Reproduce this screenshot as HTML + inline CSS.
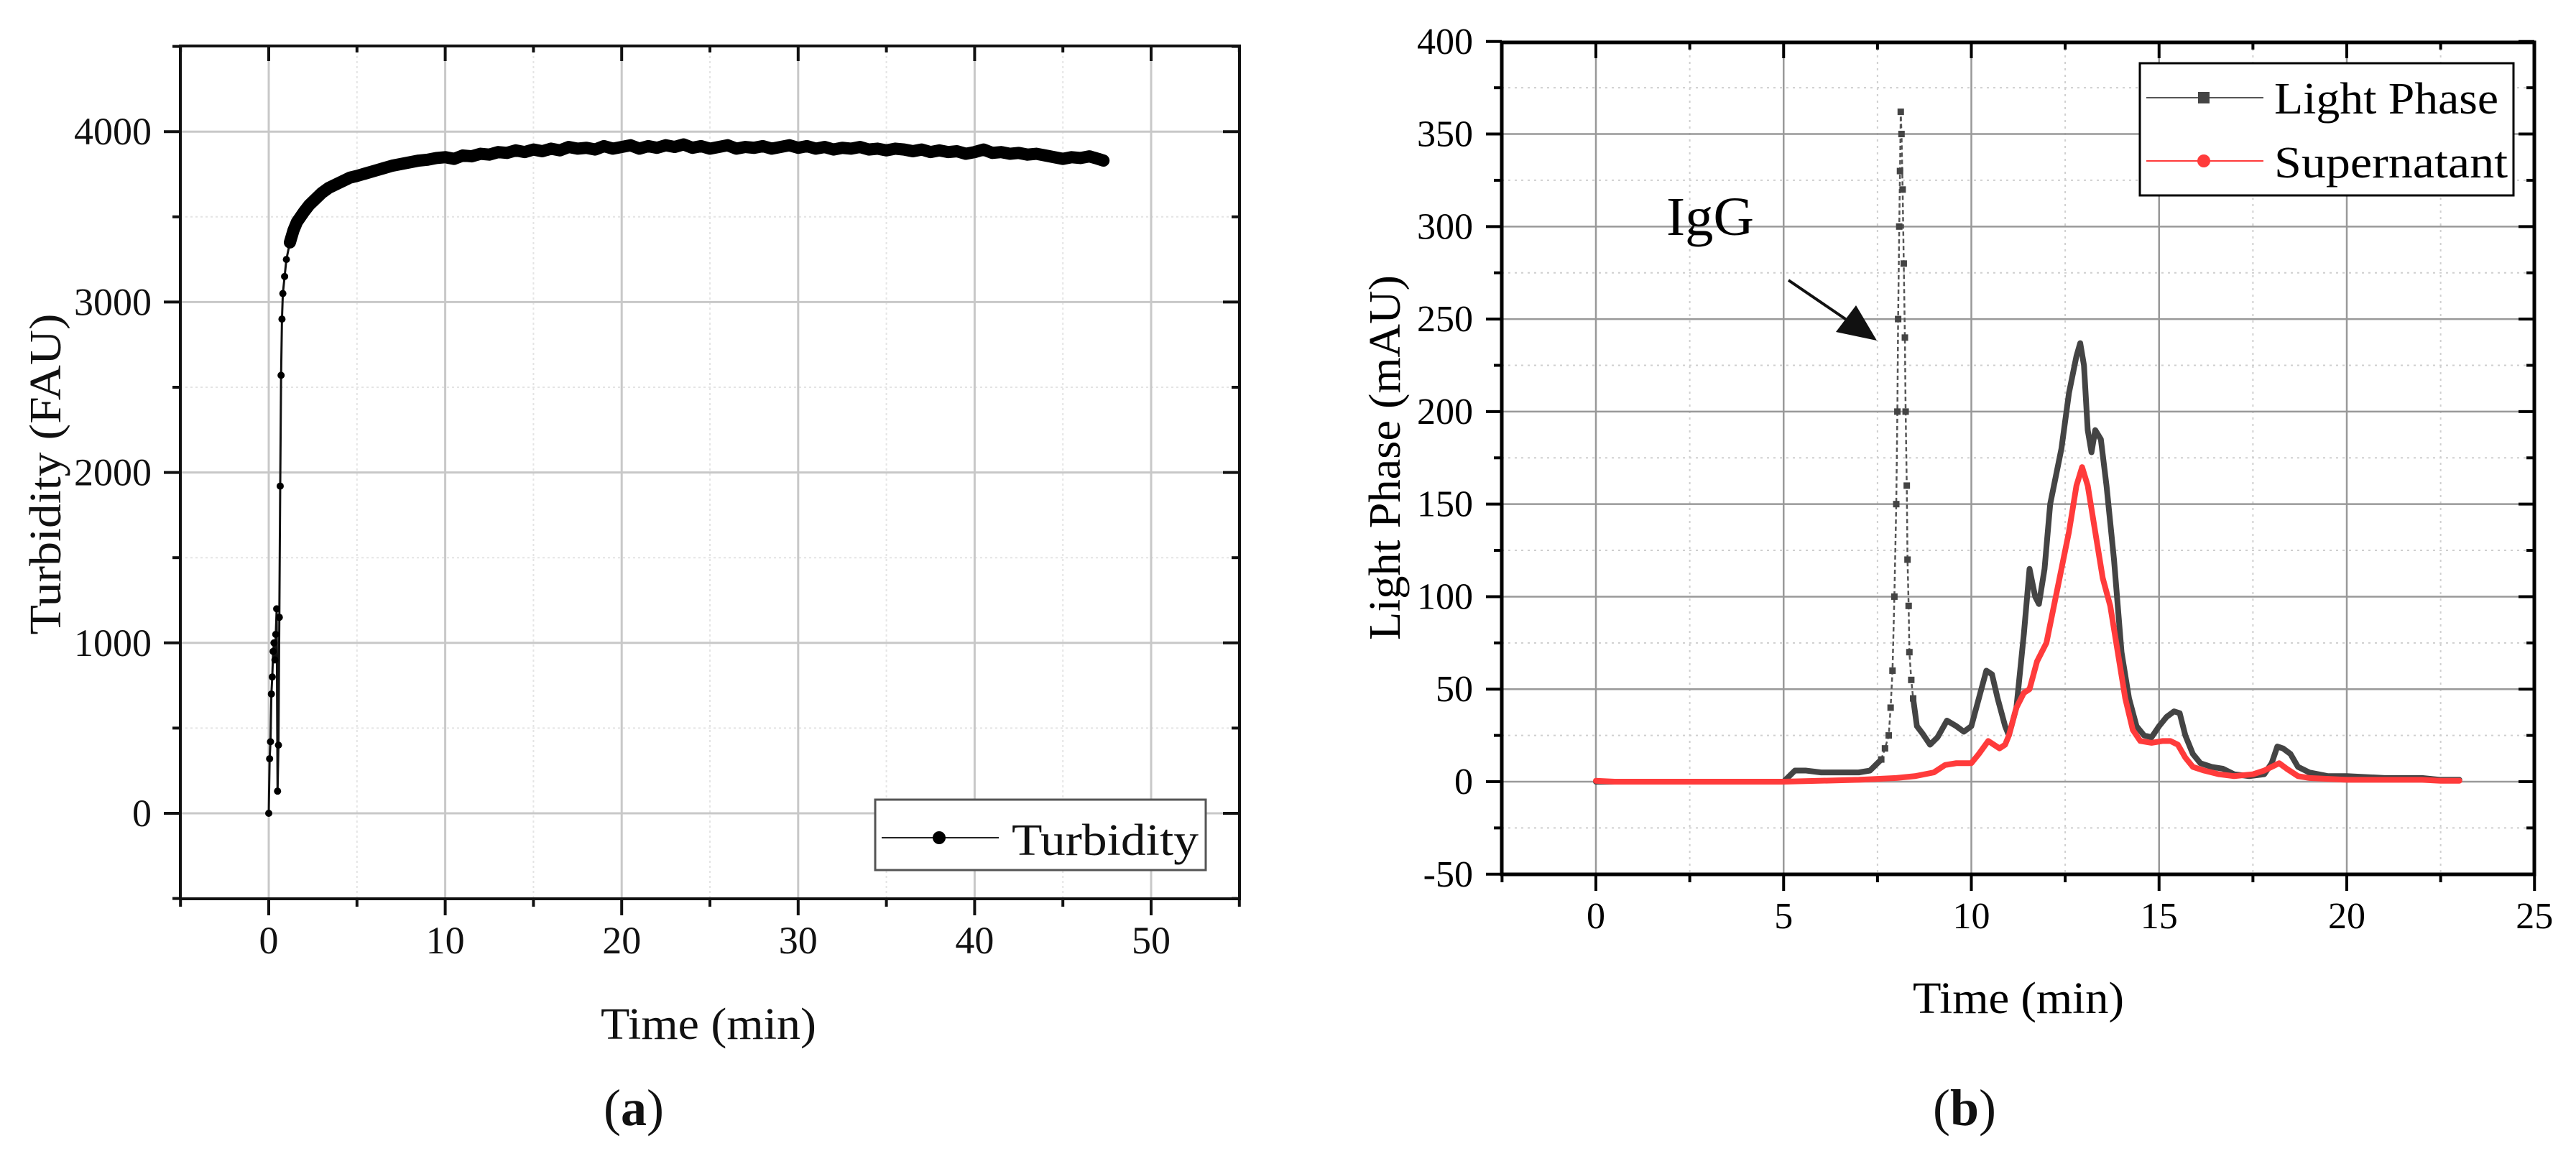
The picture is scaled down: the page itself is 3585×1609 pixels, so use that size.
<!DOCTYPE html>
<html><head><meta charset="utf-8"><style>
html,body{margin:0;padding:0;background:#fff;}
svg{display:block;font-family:"Liberation Serif",serif;}
</style></head><body>
<svg id="fig" width="3585" height="1609" viewBox="0 0 3585 1609" xmlns="http://www.w3.org/2000/svg">
<g id="chartA"></g>
<g id="chartB"></g>
</svg>
<script>
// ---------- Chart (a) data ----------
const turbTime = [0,0.05,0.1,0.15,0.2,0.25,0.3,0.35,0.4,0.45,0.5,0.55,0.6,0.65,0.7,0.75,0.8,0.9,1.0,1.2,1.4,1.6,1.8,2.0,2.3,2.6,3,3.4,3.8,4.2,4.6,5,5.5,6,6.5,7,7.5,8,8.5,9,9.5,10,10.5,11,11.5,12,12.5,13,13.5,14,14.5,15,15.5,16,16.5,17,17.5,18,18.5,19,19.5,20,20.5,21,21.5,22,22.5,23,23.5,24,24.5,25,25.5,26,26.5,27,27.5,28,28.5,29,29.5,30,30.5,31,31.5,32,32.5,33,33.5,34,34.5,35,35.5,36,36.5,37,37.5,38,38.5,39,39.5,40,40.5,41,41.5,42,42.5,43,43.5,44,44.5,45,45.5,46,46.5,47,47.3];
const turbValue = [0,320,420,700,800,950,1000,900,1050,1200,130,400,1150,1920,2570,2900,3050,3150,3250,3350,3420,3470,3500,3530,3570,3600,3640,3670,3690,3710,3730,3740,3755,3770,3785,3800,3810,3820,3830,3835,3845,3850,3840,3860,3855,3870,3865,3880,3875,3890,3880,3895,3885,3900,3890,3910,3900,3905,3895,3915,3900,3910,3920,3900,3915,3905,3920,3910,3925,3905,3915,3900,3910,3920,3900,3910,3905,3915,3900,3910,3920,3905,3915,3900,3910,3895,3905,3900,3910,3895,3900,3890,3900,3895,3885,3895,3880,3890,3880,3885,3870,3880,3895,3875,3880,3870,3875,3865,3870,3860,3850,3840,3850,3845,3855,3840,3830];
const aXTicks = [0,10,20,30,40,50];
const aYTicks = [0,1000,2000,3000,4000];

// ---------- Chart (b) data ----------
const lpTime = [0,1,2,3,4,5,5.3,5.6,6,6.5,7,7.3,7.6,7.7,7.8,7.85,7.9,7.95,8.0,8.03,8.05,8.08,8.1,8.12,8.14,8.17,8.2,8.23,8.25,8.28,8.3,8.33,8.35,8.4,8.45,8.55,8.7,8.9,9.1,9.35,9.6,9.8,10.0,10.2,10.4,10.55,10.7,10.9,11.0,11.2,11.4,11.55,11.7,11.8,11.95,12.1,12.25,12.4,12.6,12.8,12.9,13.0,13.1,13.2,13.3,13.45,13.6,13.8,14.0,14.2,14.4,14.6,14.8,15.0,15.2,15.4,15.55,15.7,15.9,16.1,16.4,16.7,17.0,17.4,17.8,18.0,18.15,18.3,18.5,18.7,19.0,19.5,20,21,22,22.5,23];
const lpValue = [0,0,0,0,0,0,6,6,5,5,5,6,12,18,25,40,60,100,150,200,250,300,330,362,350,320,280,240,200,160,120,95,70,55,45,30,26,20,24,33,30,27,30,45,60,58,45,30,25,40,80,115,100,96,115,150,165,180,210,230,237,225,190,178,190,185,160,120,70,45,30,25,24,30,35,38,37,25,15,10,8,7,4,3,4,10,19,18,15,8,5,3,3,2,2,1,1];
const supTime = [0,0.5,2,4,5,7,8,8.5,9,9.3,9.6,10,10.2,10.45,10.6,10.75,10.9,11,11.2,11.4,11.55,11.75,12,12.2,12.4,12.6,12.8,12.95,13.1,13.3,13.5,13.7,13.9,14.1,14.3,14.5,14.8,15.1,15.3,15.5,15.7,15.9,16.2,16.6,17,17.5,17.8,18.0,18.2,18.4,18.7,19,20,22,22.5,23];
const supValue = [0.5,0,0,0,0,1,2,3,5,9,10,10,15,22,20,18,20,25,40,48,50,65,75,95,115,135,160,170,160,135,110,95,70,45,28,22,21,22,22,20,13,8,6,4,3,4,6,8,10,7,3,2,1,1,0.5,0.5];
const bXTicks = [0,5,10,15,20,25];
const bYTicks = [-50,0,50,100,150,200,250,300,350,400];

const NS = "http://www.w3.org/2000/svg";
function mk(parent, tag, attrs, text){
  const e = document.createElementNS(NS, tag);
  for (const k in attrs) e.setAttribute(k, attrs[k]);
  if (text !== undefined) e.textContent = text;
  parent.appendChild(e);
  return e;
}

// ================= Chart A =================
(function(){
  const g = document.getElementById('chartA');
  const L=251, R=1725, T=64, B=1251;
  const x = v => 374 + (v) * 24.56;
  const y = v => 1132 - v * 0.2372;
  for (let v=5; v<55; v+=10){
    const l = mk(g,'line',{x1:x(v),x2:x(v),y1:T,y2:B,stroke:'#e4e4e4','stroke-width':2,'stroke-dasharray':'3,4'});
    
    
  }
  for (let v=-500; v<4500; v+=1000){
    const l = mk(g,'line',{x1:L,x2:R,y1:y(v),y2:y(v),stroke:'#e4e4e4','stroke-width':2,'stroke-dasharray':'3,4'});
    
    
  }
  aXTicks.forEach(v=>{
    const l = mk(g,'line',{x1:x(v),x2:x(v),y1:T,y2:B,stroke:'#c8c8c8','stroke-width':3});
    
    
  });
  aYTicks.forEach(v=>{
    const l = mk(g,'line',{x1:L,x2:R,y1:y(v),y2:y(v),stroke:'#c8c8c8','stroke-width':3});
    
    
  });
  const split = 19;
  const thin = mk(g,'polyline',{points:turbTime.slice(0,split+1).map((t,i)=>x(t)+','+y(turbValue[i])).join(' '),fill:'none',stroke:'#111','stroke-width':3});
  
  
  const band = mk(g,'polyline',{points:turbTime.slice(split).map((t,i)=>x(t)+','+y(turbValue[i+split])).join(' '),fill:'none',stroke:'#000','stroke-width':17,'stroke-linejoin':'round','stroke-linecap':'round'});
  
  
  turbTime.forEach((t,i)=>{
    const c = mk(g,'circle',{cx:x(t),cy:y(turbValue[i]),r:i<split?5:7,fill:'#000'});
    
    
  });
  const fr = mk(g,'rect',{x:L,y:T,width:R-L,height:B-T,fill:'none',stroke:'#111','stroke-width':4});
  
  
  for (let v=-5; v<=55; v+=5){
    const major = v%10===0;
    const len = major?23:11;
    const tb = mk(g,'line',{x1:x(v),x2:x(v),y1:B,y2:B+len,stroke:'#111','stroke-width':4});
    
    
    const tt = mk(g,'line',{x1:x(v),x2:x(v),y1:T,y2:T+len-2,stroke:'#111','stroke-width':4});
    
    
  }
  for (let v=-500; v<=4500; v+=500){
    const major = v%1000===0;
    const len = major?23:11;
    const tl = mk(g,'line',{x1:L-len,x2:L,y1:y(v),y2:y(v),stroke:'#111','stroke-width':4});
    
    
    const tr = mk(g,'line',{x1:R-len,x2:R,y1:y(v),y2:y(v),stroke:'#111','stroke-width':4});
    
    
  }
  aXTicks.forEach(v=>{
    const t = mk(g,'text',{x:x(v),y:1327,'text-anchor':'middle','font-size':54,fill:'#111'},String(v));
    
    
  });
  aYTicks.forEach(v=>{
    const t = mk(g,'text',{x:211,y:y(v)+18,'text-anchor':'end','font-size':54,fill:'#111'},String(v));
    
    
  });
  const xt = mk(g,'text',{x:986,y:1446,'text-anchor':'middle','font-size':62,textLength:300,lengthAdjust:'spacingAndGlyphs',fill:'#111'},'Time (min)');
  
  
  const yt = mk(g,'text',{x:0,y:0,'text-anchor':'middle','font-size':62,textLength:447,lengthAdjust:'spacingAndGlyphs',fill:'#111',transform:'translate(84,660) rotate(-90)'},'Turbidity (FAU)');
  
  
  const pl = mk(g,'text',{x:882,y:1566,'text-anchor':'middle','font-size':72,fill:'#111'});
  
  
  mk(pl,'tspan',{},'(');
  mk(pl,'tspan',{'font-weight':'bold'},'a');
  mk(pl,'tspan',{},')');
  const lg = mk(g,'g',{});
  
  
  mk(lg,'rect',{x:1218,y:1113,width:460,height:98,fill:'#fff',stroke:'#555','stroke-width':3});
  const ll = mk(lg,'line',{x1:1227,x2:1390,y1:1166,y2:1166,stroke:'#222','stroke-width':2});
  
  
  mk(lg,'circle',{cx:1307,cy:1166,r:9,fill:'#000'});
  const lt = mk(lg,'text',{x:1408,y:1190,'font-size':62,textLength:260,lengthAdjust:'spacingAndGlyphs',fill:'#111'},'Turbidity');
  
  
})();

// ================= Chart B =================
(function(){
  const g = document.getElementById('chartB');
  const L=2090, R=3527, T=59, B=1217;
  const x = v => 2221 + v * 52.25;
  const y = v => 1088 - v * 2.5756;
  for (let v=-2.5; v<25; v+=5){
    const l = mk(g,'line',{x1:x(v),x2:x(v),y1:T,y2:B,stroke:'#cfcfcf','stroke-width':2,'stroke-dasharray':'3,6'});
    
    
  }
  for (let v=-25; v<400; v+=50){
    const l = mk(g,'line',{x1:L,x2:R,y1:y(v),y2:y(v),stroke:'#cfcfcf','stroke-width':2,'stroke-dasharray':'3,6'});
    
    
  }
  bXTicks.forEach(v=>{
    const l = mk(g,'line',{x1:x(v),x2:x(v),y1:T,y2:B,stroke:'#999','stroke-width':2.5});
    
    
  });
  bYTicks.forEach(v=>{
    const l = mk(g,'line',{x1:L,x2:R,y1:y(v),y2:y(v),stroke:'#999','stroke-width':2.5});
    
    
  });
  const spikeStart = lpTime.indexOf(7.6), spikeEnd = lpTime.indexOf(8.45);
  const p1 = lpTime.slice(0,spikeStart+1).map((t,i)=>x(t)+','+y(lpValue[i])).join(' ');
  const p3 = lpTime.slice(spikeEnd).map((t,i)=>x(t)+','+y(lpValue[i+spikeEnd])).join(' ');
  const p2 = lpTime.slice(spikeStart,spikeEnd+1).map((t,i)=>x(t)+','+y(lpValue[i+spikeStart])).join(' ');
  const a1 = mk(g,'polyline',{points:p1,fill:'none',stroke:'#444','stroke-width':8,'stroke-linejoin':'round','stroke-linecap':'round'});
  
  
  const a2 = mk(g,'polyline',{points:p2,fill:'none',stroke:'#555','stroke-width':2.5,'stroke-dasharray':'6,4'});
  
  
  const a3 = mk(g,'polyline',{points:p3,fill:'none',stroke:'#444','stroke-width':8,'stroke-linejoin':'round','stroke-linecap':'round'});
  
  
  for (let i=spikeStart;i<=spikeEnd;i++){
    const s = mk(g,'rect',{x:x(lpTime[i])-4.5,y:y(lpValue[i])-4.5,width:9,height:9,fill:'#444'});
    
    
  }
  const sp = mk(g,'polyline',{points:supTime.map((t,i)=>x(t)+','+y(supValue[i])).join(' '),fill:'none',stroke:'#ff3b3b','stroke-width':8,'stroke-linejoin':'round','stroke-linecap':'round'});
  
  
  const fr = mk(g,'rect',{x:L,y:T,width:R-L,height:B-T,fill:'none',stroke:'#000','stroke-width':5});
  
  
  for (let v=-2.5; v<=25; v+=2.5){
    const major = Math.abs(v%5)<1e-6;
    const len = major?23:11;
    const tb = mk(g,'line',{x1:x(v),x2:x(v),y1:B,y2:B+len,stroke:'#000','stroke-width':4});
    
    
    const tt = mk(g,'line',{x1:x(v),x2:x(v),y1:T,y2:T+len-1,stroke:'#000','stroke-width':4});
    
    
  }
  for (let v=-50; v<=400; v+=25){
    const major = v%50===0;
    const len = major?22:11;
    const tl = mk(g,'line',{x1:L-len,x2:L,y1:y(v),y2:y(v),stroke:'#000','stroke-width':4});
    
    
    const tr = mk(g,'line',{x1:R-len,x2:R,y1:y(v),y2:y(v),stroke:'#000','stroke-width':4});
    
    
  }
  bXTicks.forEach(v=>{
    const t = mk(g,'text',{x:x(v),y:1292,'text-anchor':'middle','font-size':52,fill:'#000'},String(v));
    
    
  });
  bYTicks.forEach(v=>{
    const t = mk(g,'text',{x:2050,y:y(v)+17,'text-anchor':'end','font-size':52,fill:'#000'},String(v));
    
    
  });
  const xt = mk(g,'text',{x:2809,y:1410,'text-anchor':'middle','font-size':62,textLength:294,lengthAdjust:'spacingAndGlyphs',fill:'#000'},'Time (min)');
  
  
  const yt = mk(g,'text',{x:0,y:0,'text-anchor':'middle','font-size':62,textLength:508,lengthAdjust:'spacingAndGlyphs',fill:'#000',transform:'translate(1948,637) rotate(-90)'},'Light Phase (mAU)');
  
  
  const pl = mk(g,'text',{x:2734,y:1566,'text-anchor':'middle','font-size':72,fill:'#111'});
  
  
  mk(pl,'tspan',{},'(');
  mk(pl,'tspan',{'font-weight':'bold'},'b');
  mk(pl,'tspan',{},')');
  const ig = mk(g,'text',{x:2319,y:327,'font-size':76,textLength:122,lengthAdjust:'spacingAndGlyphs',fill:'#000'},'IgG');
  
  
  const ar = mk(g,'line',{x1:2489,y1:390,x2:2580,y2:452,stroke:'#111','stroke-width':4});
  
  
  const ah = mk(g,'polygon',{points:'2612,474 2555,462 2583,425',fill:'#111'});
  
  
  const lg = mk(g,'g',{});
  
  
  mk(lg,'rect',{x:2978,y:88,width:520,height:184,fill:'#fff',stroke:'#000','stroke-width':3});
  const l1 = mk(lg,'line',{x1:2987,x2:3150,y1:136,y2:136,stroke:'#555','stroke-width':2});
  
  
  mk(lg,'rect',{x:3059,y:128,width:16,height:16,fill:'#444'});
  const t1 = mk(lg,'text',{x:3165,y:158,'font-size':62,textLength:312,lengthAdjust:'spacingAndGlyphs',fill:'#000'},'Light Phase');
  
  
  const l2 = mk(lg,'line',{x1:2987,x2:3150,y1:224,y2:224,stroke:'#ff3b3b','stroke-width':2});
  
  
  mk(lg,'circle',{cx:3067,cy:224,r:9,fill:'#ff3b3b'});
  const t2 = mk(lg,'text',{x:3165,y:247,'font-size':62,textLength:325,lengthAdjust:'spacingAndGlyphs',fill:'#000'},'Supernatant');
  
  
})();
</script>
</body></html>
